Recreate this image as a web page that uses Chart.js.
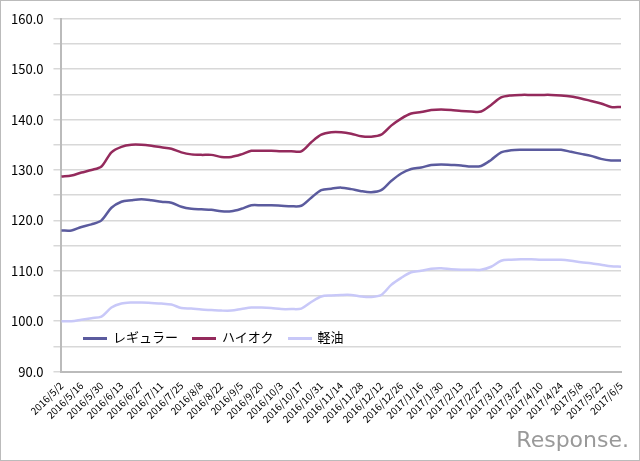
<!DOCTYPE html>
<html><head><meta charset="utf-8">
<script src="https://cdn.jsdelivr.net/npm/chart.js@4/dist/chart.umd.min.js"></script>
<style>
html,body{margin:0;padding:0;background:#fff;}
#wrap{position:relative;width:638px;height:459px;border:1px solid #bbb;}
#legend{position:absolute;left:82px;top:326px;font-family:"Noto Sans CJK JP";font-size:13px;color:#000;display:flex;gap:14px;align-items:center;}
#legend span.l{display:inline-block;width:24px;height:3px;vertical-align:middle;margin-right:6px;}
#mark{position:absolute;right:10px;bottom:8px;font-family:"DejaVu Sans";font-size:22px;color:#999;letter-spacing:0px;}
</style></head><body>
<div id="wrap"><canvas id="c" width="638" height="459"></canvas>
<div id="legend"><div><span class="l" style="background:#5b5b9e"></span>レギュラー</div><div><span class="l" style="background:#942a5c"></span>ハイオク</div><div><span class="l" style="background:#c8c8f8"></span>軽油</div></div>
<div id="mark">Response.</div></div>
<script>
const dates = ["2016/5/2","2016/5/9","2016/5/16","2016/5/23","2016/5/30","2016/6/6","2016/6/13","2016/6/20","2016/6/27","2016/7/4","2016/7/11","2016/7/19","2016/7/25","2016/8/1","2016/8/8","2016/8/15","2016/8/22","2016/8/29","2016/9/5","2016/9/12","2016/9/20","2016/9/26","2016/10/3","2016/10/11","2016/10/17","2016/10/24","2016/10/31","2016/11/7","2016/11/14","2016/11/21","2016/11/28","2016/12/5","2016/12/12","2016/12/19","2016/12/26","2017/1/10","2017/1/16","2017/1/23","2017/1/30","2017/2/6","2017/2/13","2017/2/20","2017/2/27","2017/3/6","2017/3/13","2017/3/21","2017/3/27","2017/4/3","2017/4/10","2017/4/17","2017/4/24","2017/5/1","2017/5/8","2017/5/15","2017/5/22","2017/5/29","2017/6/5"];
const regular = [118.0,118.0,118.7,119.2,120.0,122.5,123.7,124.0,124.2,124.0,123.7,123.5,122.7,122.3,122.2,122.1,121.8,121.8,122.3,123.0,123.0,123.0,122.9,122.8,122.9,124.5,126.0,126.3,126.5,126.2,125.8,125.6,126.0,127.8,129.3,130.2,130.5,131.0,131.1,131.0,130.9,130.7,130.8,132.0,133.5,133.9,134.0,134.0,134.0,134.0,134.0,133.6,133.2,132.8,132.2,131.9,131.9];
const highOctane = [128.7,128.9,129.5,130.0,130.7,133.5,134.6,135.0,135.0,134.8,134.5,134.2,133.5,133.1,133.0,133.0,132.6,132.6,133.1,133.8,133.8,133.8,133.7,133.7,133.7,135.5,137.0,137.5,137.5,137.2,136.7,136.6,137.0,138.8,140.2,141.2,141.5,141.9,142.0,141.9,141.7,141.6,141.6,142.9,144.4,144.8,144.9,144.9,144.9,144.9,144.8,144.6,144.2,143.7,143.2,142.5,142.5];
const diesel = [100.0,100.0,100.3,100.6,100.9,102.7,103.5,103.7,103.7,103.6,103.5,103.3,102.6,102.5,102.3,102.2,102.1,102.1,102.4,102.7,102.7,102.6,102.4,102.4,102.5,103.8,104.9,105.1,105.2,105.2,104.9,104.8,105.2,107.2,108.6,109.7,110.0,110.4,110.5,110.3,110.2,110.2,110.2,110.8,112.0,112.2,112.3,112.3,112.2,112.2,112.2,112.0,111.7,111.5,111.2,110.9,110.8];
const mk=(label,data,color)=>({label,data,borderColor:color,backgroundColor:color,borderWidth:2.5,pointRadius:0,tension:0.3,fill:false});
new Chart(document.getElementById('c'),{type:'line',
data:{labels:dates,datasets:[mk('レギュラー',regular,'#5b5b9e'),mk('ハイオク',highOctane,'#942a5c'),mk('軽油',diesel,'#c8c8f8')]},
options:{responsive:false,animation:false,
layout:{padding:{top:4,right:18,left:0,bottom:35}},
plugins:{legend:{display:false},tooltip:{enabled:false}},
scales:{
x:{offset:false,grid:{display:false},border:{color:'#bbb',width:2},
 ticks:{autoSkip:false,maxRotation:45,minRotation:45,color:'#000',font:{family:'"Noto Sans CJK JP"',size:10},padding:0,
 callback:(v,i)=>i%2===0?dates[i]:''}},
y:{min:90,max:160,grid:{color:'#d8d8d8',lineWidth:1.5},border:{color:'#bbb',width:2},
 ticks:{stepSize:5,color:'#000',font:{family:'"Noto Sans CJK JP"',size:13},padding:10,
 callback:v=>v%10===0?v.toFixed(1):''}}
}}});
</script></body></html>
